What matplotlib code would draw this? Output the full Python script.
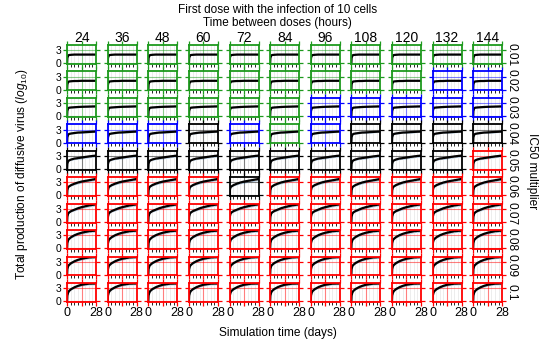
import numpy as np
import matplotlib
matplotlib.use('Agg')
import matplotlib.pyplot as plt

plt.rcParams['font.family'] = ['Liberation Sans', 'DejaVu Sans']
plt.rcParams['mathtext.fontset'] = 'custom'
plt.rcParams['mathtext.it'] = 'Liberation Sans:italic'
plt.rcParams['mathtext.rm'] = 'Liberation Sans'

# Time between doses (columns) and IC50 multipliers (rows)
intervals = ['24', '36', '48', '60', '72', '84', '96', '108', '120', '132', '144']
ic50 = ['0.01', '0.02', '0.03', '0.04', '0.05', '0.06', '0.07', '0.08', '0.09', '0.1']

# Frame colour of each panel: g=green, b=blue, k=black, r=red
frames = [
    'ggggggggggg',
    'gggggggggbb',
    'ggggggbbbbb',
    'bbbkbgbkkkk',
    'kkkkkkkkkkr',
    'rrrrkrrrrrr',
    'rrrrrrrrrrr',
    'rrrrrrrrrrr',
    'rrrrrrrrrrr',
    'rrrrrrrrrrr',
]

days = [0, 0.25, 1, 2, 4, 7, 10, 14, 21, 28]

# mean log10 virus production per IC50 row
mean_curves = [
    [0, 1.2, 1.8, 1.9, 1.95, 2.0, 2.0, 2.0, 2.0, 2.0],
    [0, 1.2, 1.8, 1.9, 1.95, 2.0, 2.0, 2.05, 2.05, 2.05],
    [0, 1.2, 1.8, 1.95, 2.0, 2.05, 2.1, 2.15, 2.2, 2.25],
    [0, 1.2, 1.8, 2.0, 2.1, 2.2, 2.3, 2.35, 2.45, 2.55],
    [0, 1.2, 1.8, 2.0, 2.2, 2.4, 2.5, 2.65, 2.9, 3.1],
    [0, 1.2, 1.9, 2.1, 2.4, 2.7, 2.95, 3.2, 3.5, 3.8],
    [0, 1.2, 1.9, 2.2, 2.5, 2.8, 3.1, 3.4, 3.8, 4.05],
    [0, 1.2, 1.9, 2.2, 2.6, 3.0, 3.3, 3.6, 3.95, 4.1],
    [0, 1.3, 2.0, 2.3, 2.7, 3.1, 3.4, 3.7, 4.0, 4.1],
    [0, 1.3, 2.0, 2.4, 2.8, 3.2, 3.5, 3.8, 4.05, 4.1],
]
# spread of the replicate bands per row
band_width = [0.08, 0.1, 0.15, 0.2, 0.3, 0.35, 0.35, 0.35, 0.3, 0.3]
band_growth = [0, 0, 0.2, 0.4, 0.6, 0.8, 0.9, 1, 1, 1]

colors = {'g': '#1e9a1e', 'b': '#0000ff', 'k': '#000000', 'r': '#ff0000'}

fig, axes = plt.subplots(10, 11, figsize=(5.5, 3.49), dpi=100, sharex=True, sharey=True)
plt.subplots_adjust(left=0.122, right=0.913, top=0.871, bottom=0.135, wspace=0.4, hspace=0.4)

for i in range(10):
    mean = np.array(mean_curves[i])
    spread = band_width[i] * np.array(band_growth)
    for j in range(11):
        ax = axes[i, j]
        c = colors[frames[i][j]]
        ax.fill_between(days, mean - spread, mean + 0.3 * spread, color='#5b9bd5', alpha=0.5, lw=0)
        ax.fill_between(days, mean - 0.4 * spread, mean + 0.6 * spread, color='#f0a35e', alpha=0.45, lw=0)
        ax.plot(days, mean, color='black', lw=1.6)
        ax.set_xlim(0, 28)
        ax.set_ylim(-0.15, 4.2)
        ax.set_xticks([0, 14, 28])
        ax.set_xticks([3.5, 7, 10.5, 17.5, 21, 24.5], minor=True)
        ax.set_yticks([0, 3])
        ax.grid(which='major', color=c, alpha=0.5, lw=0.8)
        ax.grid(which='minor', axis='x', color='0.88', lw=0.4)
        for s in ax.spines.values():
            s.set_color(c)
            s.set_linewidth(1.3)
        ax.tick_params(which='major', direction='out', length=3, color=c, width=0.9,
                       top=True, right=True, pad=1)
        ax.tick_params(axis='x', which='major', labelsize=9)
        ax.tick_params(axis='y', which='major', labelsize=7.5)
        ax.tick_params(axis='x', which='minor', direction='out', length=2, color='black',
                       width=0.6, bottom=True, top=False)
        if i == 0:
            ax.set_title(intervals[j], fontsize=10, pad=1)
        if j == 10:
            ax.text(1.1, 0.5, ic50[i], rotation=270, transform=ax.transAxes,
                    va='center', ha='left', fontsize=8.6)

axes[0, 0].set_xticklabels(['0', '', '28'])

fig.text(0.505, 0.971, 'First dose with the infection of 10 cells', ha='center', va='center', fontsize=8.5)
fig.text(0.505, 0.934, 'Time between doses (hours)', ha='center', va='center', fontsize=8.5)
fig.text(0.505, 0.046, 'Simulation time (days)', ha='center', va='center', fontsize=8.6)
fig.text(0.04, 0.5, 'Total production of diffusive virus ($log_{10}$)', rotation=90,
         ha='center', va='center', fontsize=8.6)
fig.text(0.967, 0.51, 'IC50 multiplier', rotation=270, ha='center', va='center', fontsize=8.6)

fig.savefig('out.png', dpi=100)
